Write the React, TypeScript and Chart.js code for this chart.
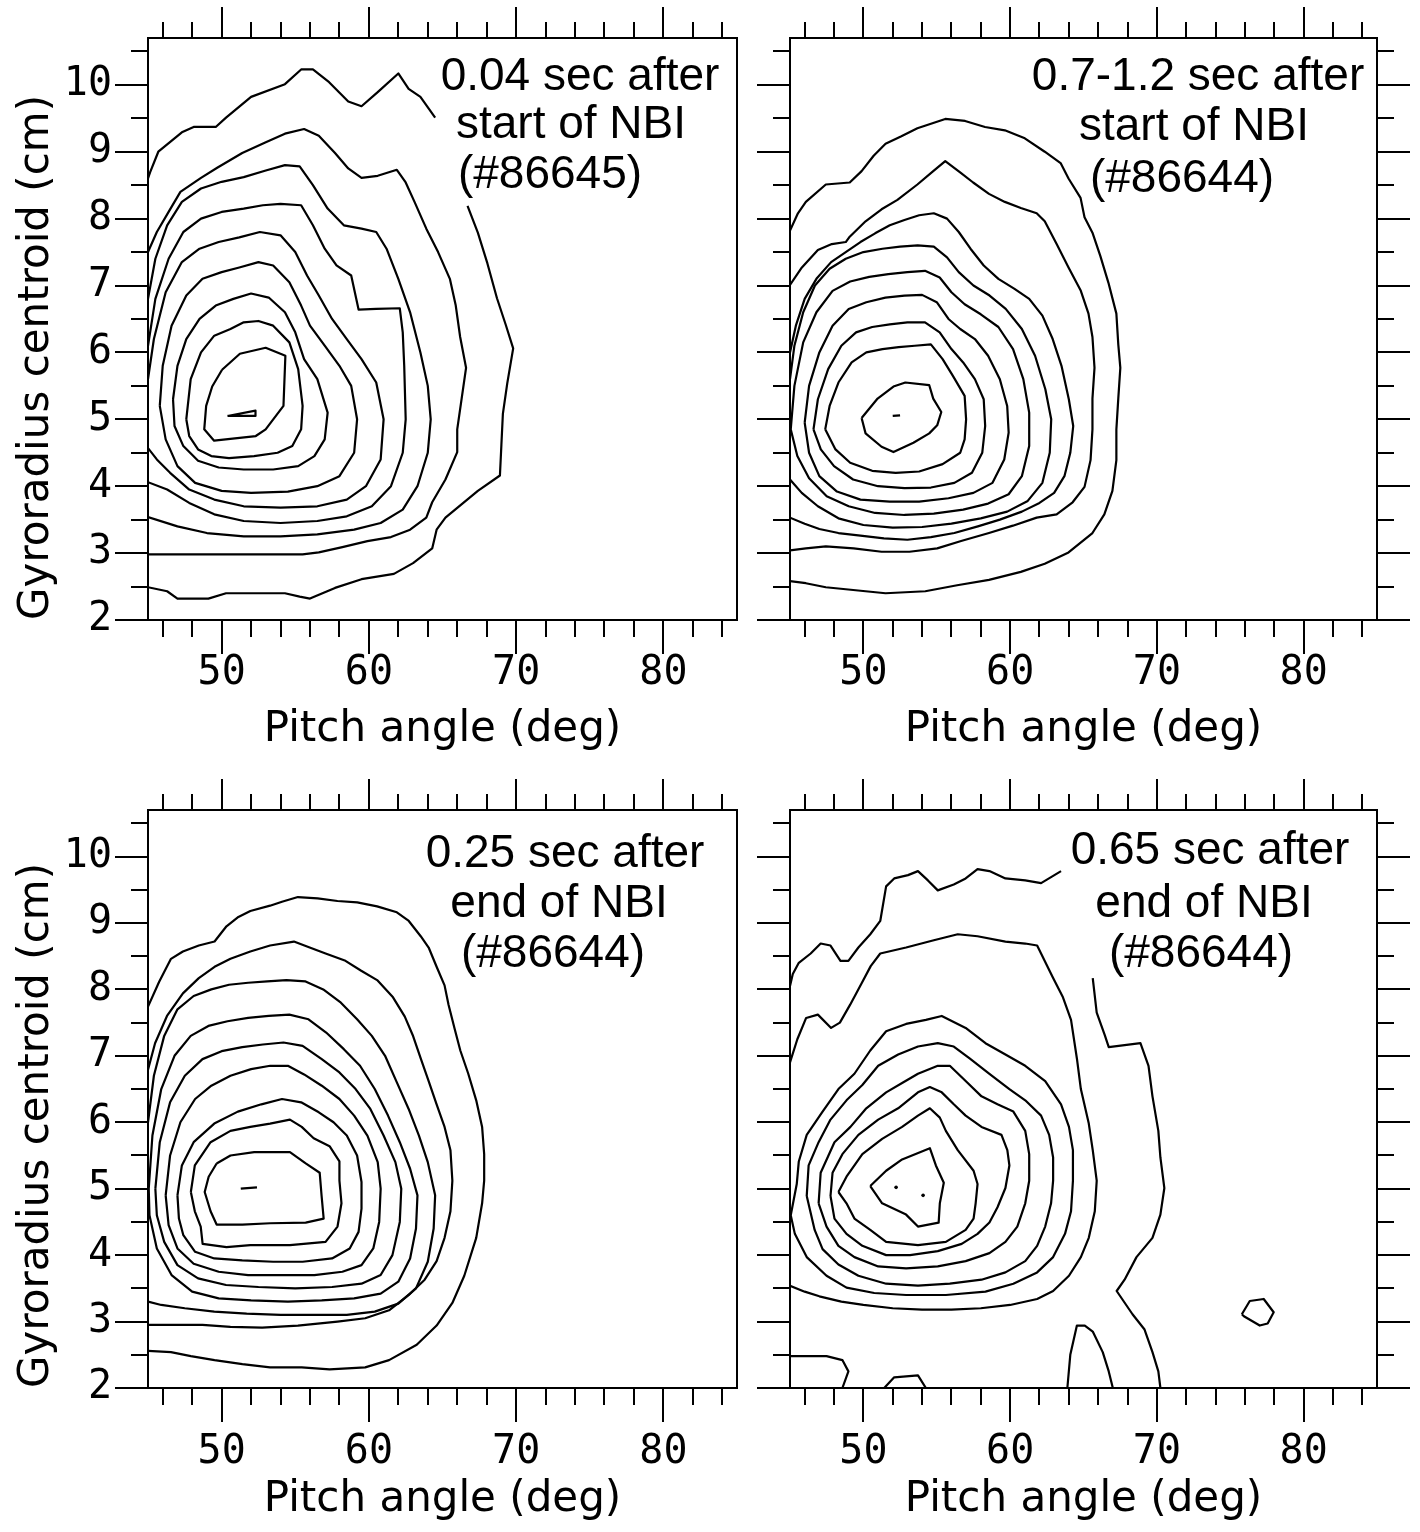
import React, { useEffect, useRef } from "react";
import { Chart, registerables } from "chart.js";
Chart.register(...registerables);

type P = [number, number] | null;

// ---------- axes / labels ----------
const X_TICK_LABELS = [50, 60, 70, 80];
const X_TICK_MARKS = [46, 48, 50, 52, 54, 56, 58, 60, 62, 64, 66, 68, 70, 72, 74, 76, 78, 80, 82, 84];
const Y_TICK_LABELS = [2, 3, 4, 5, 6, 7, 8, 9, 10];
const Y_TICK_MARKS = [2, 2.5, 3, 3.5, 4, 4.5, 5, 5.5, 6, 6.5, 7, 7.5, 8, 8.5, 9, 9.5, 10, 10.5];
const X_TITLE = "Pitch angle (deg)";
const Y_TITLE = "Gyroradius centroid (cm)";

const TL_NOTE = ["0.04 sec after", "start of NBI", "(#86645)"];
const TR_NOTE = ["0.7-1.2 sec after", "start of NBI", "(#86644)"];
const BL_NOTE = ["0.25 sec after", "end of NBI", "(#86644)"];
const BR_NOTE = ["0.65 sec after", "end of NBI", "(#86644)"];

// ---------- top-left: 0.04 s after start of NBI ----------
const TL_C1: P[] = [[45.0,8.6],[45.14,8.69],[45.7,9.0],[47.3,9.29],[48.1,9.37],[49.6,9.37],[50.3,9.51],[52.0,9.82],[54.3,10.01],[55.4,10.23],[56.2,10.23],[57.3,10.04],[58.6,9.75],[59.5,9.68],[60.6,9.89],[62.0,10.17],[62.7,9.94],[63.5,9.82],[64.5,9.51],
  null,
  [66.7,8.19],[67.4,7.79],[68.05,7.33],[68.7,6.81],[69.3,6.41],[69.8,6.06],[69.4,5.54],[69.1,5.08],[69.0,4.62],[68.9,4.16],[67.4,3.93],[65.2,3.53],[64.6,3.35],[64.3,3.07],[63.0,2.85],[61.7,2.69],[59.5,2.61],[57.7,2.48],[56.0,2.32],[55.3,2.35],[54.3,2.40],[50.3,2.40],[49.1,2.32],[47.0,2.32],[46.3,2.43],[45.0,2.49]];
const TL_C2: P[] = [[45,7.5],[45.6,7.8],[46.4,8.1],[47.2,8.4],[48.6,8.61],[49.7,8.76],[51.4,8.98],[53.0,9.14],[54.3,9.27],[55.6,9.34],[56.6,9.24],[57.7,8.98],[58.6,8.75],[59.5,8.61],[60.6,8.64],[61.9,8.73],[62.5,8.54],[63.1,8.25],[63.9,7.85],[64.7,7.5],[65.5,7.1],[65.9,6.7],[66.2,6.23],[66.6,5.77],[66.3,5.31],[66.0,4.85],[66.0,4.51],[65.2,4.1],[64.3,3.76],[63.9,3.53],[62.8,3.35],[61.5,3.24],[59.9,3.18],[58.2,3.09],[56.6,3.01],[55.5,2.98],[53.9,2.98],[49.1,2.98],[45,2.98]];
const TL_C3: P[] = [[45,6.8],[45.5,7.4],[46.3,7.9],[47.3,8.25],[48.6,8.45],[50.0,8.55],[51.5,8.62],[53.0,8.72],[54.3,8.8],[55.3,8.78],[56.2,8.5],[57.2,8.15],[58.3,7.9],[59.5,7.85],[60.5,7.8],[61.2,7.55],[62.0,7.1],[62.8,6.6],[63.5,6.0],[64.0,5.5],[64.2,5.0],[64.0,4.5],[63.3,4.0],[62.3,3.65],[60.8,3.45],[59.0,3.35],[56.5,3.28],[54.0,3.25],[51.5,3.25],[49.0,3.3],[47.0,3.4],[45,3.54]];
const TL_C4: P[] = [[45,6.1],[45.5,6.8],[46.4,7.4],[47.4,7.8],[48.6,8.0],[50.0,8.1],[51.5,8.15],[52.8,8.2],[54.0,8.22],[55.4,8.2],[56.2,7.9],[57.0,7.55],[57.8,7.3],[58.8,7.15],[59.3,6.64],[60.5,6.65],[62.1,6.66],[62.3,6.3],[62.4,5.8],[62.5,5.0],[62.3,4.5],[61.5,4.0],[60.2,3.7],[58.5,3.55],[56.5,3.48],[54.0,3.45],[51.5,3.48],[49.5,3.58],[47.8,3.75],[46.3,3.95],[45,4.06]];
const TL_C5: P[] = [[45,5.6],[45.4,6.2],[46.2,6.9],[47.3,7.35],[48.5,7.55],[49.8,7.65],[51.2,7.72],[52.6,7.8],[54.0,7.75],[55.0,7.5],[55.8,7.15],[56.6,6.85],[57.5,6.5],[58.5,6.2],[59.5,5.9],[60.5,5.55],[61.0,5.0],[60.8,4.4],[59.8,4.0],[58.5,3.8],[56.5,3.7],[54.0,3.68],[51.5,3.7],[49.5,3.8],[47.8,3.95],[46.5,4.2],[45.6,4.4],[45,4.57]];
const TL_C6: P[] = [[45.8,5.2],[46.0,5.8],[46.6,6.4],[47.6,6.85],[48.7,7.1],[50.0,7.2],[51.2,7.27],[52.5,7.35],[53.5,7.3],[54.6,7.05],[55.4,6.7],[56.0,6.4],[57.0,6.1],[58.0,5.8],[58.8,5.5],[59.2,5.0],[59.0,4.5],[58.0,4.15],[56.5,4.0],[54.5,3.92],[52.0,3.9],[50.0,3.93],[48.2,4.05],[47.0,4.3],[46.2,4.7],[45.8,5.2]];
const TL_C7: P[] = [[46.7,5.3],[47.0,5.8],[47.6,6.2],[48.5,6.5],[49.6,6.7],[50.8,6.8],[52.0,6.88],[53.2,6.82],[54.3,6.6],[55.0,6.3],[55.6,5.9],[56.5,5.6],[57.2,5.1],[57.0,4.7],[56.3,4.45],[55.2,4.3],[53.5,4.25],[51.5,4.25],[49.8,4.28],[48.4,4.38],[47.4,4.6],[46.8,4.9],[46.7,5.3]];
const TL_C8: P[] = [[47.6,5.0],[47.9,5.6],[48.6,6.0],[49.5,6.25],[50.6,6.35],[51.5,6.45],[52.5,6.47],[53.5,6.4],[54.6,6.15],[55.2,5.75],[55.5,5.2],[55.4,4.85],[54.8,4.6],[53.8,4.5],[52.2,4.45],[50.5,4.42],[49.3,4.45],[48.4,4.55],[47.8,4.75],[47.6,5.0]];
const TL_C9: P[] = [[50.03,5.74],[51.24,5.98],[52.99,6.07],[54.33,5.95],[54.2,5.2],[52.99,4.85],[52.32,4.75],[49.49,4.68],[48.82,4.85],[48.95,5.2],[49.36,5.49],[50.03,5.74]];
const TL_C10: P[] = [[50.4,5.05],[52.3,5.13],[52.3,5.05],[50.4,5.05]];

// ---------- top-right: 0.7-1.2 s after start of NBI ----------
const TR_C1: P[] = [[45.0,7.82],[45.54,8.08],[46.08,8.25],[47.44,8.51],[49.07,8.54],[49.88,8.71],[50.7,8.94],[51.51,9.12],[52.59,9.23],[53.68,9.35],[54.76,9.43],[55.58,9.49],[56.93,9.46],[58.29,9.37],[59.64,9.32],[61.0,9.2],[62.36,9.0],[63.44,8.83],[63.98,8.6],[64.8,8.31],[65.07,8.02],[65.61,7.79],[66.15,7.44],[66.7,7.04],[67.24,6.58],[67.37,6.12],[67.51,5.77],[67.37,5.31],[67.24,4.85],[67.24,4.39],[66.97,3.93],[66.42,3.58],[65.61,3.3],[63.98,3.01],[62.36,2.84],[60.73,2.72],[58.56,2.6],[56.39,2.52],[54.22,2.43],[51.51,2.4],[50.15,2.43],[48.8,2.46],[47.44,2.49],[46.08,2.55],[45.0,2.58]];
const TR_C2: P[] = [[45,7.01],[45.81,7.27],[46.9,7.53],[47.85,7.62],[48.8,7.65],[49.07,7.73],[50.15,7.96],[51.24,8.14],[52.32,8.28],[53.68,8.51],[54.76,8.71],[55.58,8.86],[56.66,8.68],[57.48,8.54],[58.56,8.37],[59.64,8.25],[60.73,8.16],[61.81,8.08],[62.36,7.96],[63.17,7.62],[63.98,7.27],[64.8,6.93],[65.34,6.58],[65.61,6.23],[65.75,5.77],[65.61,5.31],[65.61,4.85],[65.48,4.39],[65.07,3.99],[64.26,3.76],[63.17,3.58],[61.81,3.53],[60.19,3.41],[58.56,3.3],[56.66,3.18],[55.03,3.07],[53.14,3.02],[51.24,3.02],[49.34,3.07],[47.44,3.1],[46.08,3.07],[45,3.04]];
const TR_C3: P[] = [[45,6.0],[45.4,6.4],[46.0,6.8],[46.8,7.1],[47.8,7.35],[48.8,7.5],[49.8,7.65],[50.8,7.78],[51.8,7.9],[52.8,7.98],[53.8,8.05],[54.8,8.08],[55.7,8.0],[56.5,7.8],[57.3,7.55],[58.2,7.3],[59.2,7.1],[60.3,6.95],[61.3,6.8],[62.2,6.55],[62.9,6.2],[63.5,5.8],[64.0,5.3],[64.3,4.9],[64.1,4.5],[63.7,4.15],[63.0,3.9],[62.0,3.75],[60.8,3.62],[59.3,3.5],[57.8,3.4],[56.2,3.3],[54.6,3.24],[53.0,3.2],[51.4,3.22],[49.8,3.26],[48.3,3.3],[47.0,3.36],[46.0,3.44],[45,3.53]];
const TR_C4: P[] = [[45,5.6],[45.3,6.1],[45.9,6.6],[46.7,7.0],[47.7,7.25],[48.8,7.4],[50.0,7.5],[51.3,7.55],[52.5,7.58],[53.7,7.6],[54.8,7.58],[55.7,7.42],[56.5,7.2],[57.5,7.0],[58.6,6.85],[59.7,6.65],[60.8,6.35],[61.7,5.95],[62.4,5.45],[62.8,5.0],[62.7,4.5],[62.2,4.05],[61.2,3.78],[59.8,3.62],[58.0,3.52],[56.0,3.44],[54.0,3.39],[52.0,3.38],[50.0,3.42],[48.3,3.52],[46.9,3.7],[45.8,3.9],[45,4.1]];
const TR_C5: P[] = [[45.05,4.85],[45.3,5.5],[45.9,6.15],[46.8,6.6],[47.9,6.92],[49.1,7.06],[50.4,7.13],[51.7,7.17],[53.0,7.2],[54.2,7.22],[55.2,7.12],[56.0,6.9],[56.9,6.72],[58.0,6.57],[59.2,6.38],[60.2,6.05],[60.9,5.6],[61.3,5.1],[61.3,4.6],[60.8,4.15],[59.9,3.88],[58.5,3.74],[56.8,3.65],[54.8,3.59],[52.8,3.57],[50.8,3.6],[49.0,3.7],[47.5,3.85],[46.3,4.12],[45.5,4.45],[45.05,4.85]];
const TR_C6: P[] = [[46.0,4.95],[46.3,5.5],[47.0,6.0],[47.9,6.4],[49.0,6.65],[50.2,6.75],[51.5,6.82],[52.8,6.85],[54.0,6.86],[55.0,6.75],[55.8,6.5],[56.6,6.35],[57.6,6.2],[58.5,5.95],[59.3,5.6],[59.8,5.2],[59.9,4.8],[59.6,4.4],[58.8,4.05],[57.5,3.9],[55.8,3.82],[53.8,3.77],[51.8,3.77],[49.8,3.8],[48.2,3.92],[47.0,4.15],[46.3,4.5],[46.0,4.95]];
const TR_C7: P[] = [[46.6,4.85],[46.9,5.3],[47.6,5.75],[48.5,6.1],[49.5,6.3],[50.6,6.38],[51.8,6.42],[53.0,6.45],[54.2,6.45],[55.2,6.3],[56.0,6.05],[56.8,5.85],[57.6,5.6],[58.2,5.3],[58.3,4.9],[58.1,4.5],[57.4,4.2],[56.2,4.05],[54.6,3.98],[52.8,3.97],[51.0,4.0],[49.3,4.1],[48.0,4.3],[47.1,4.55],[46.6,4.85]];
const TR_C8: P[] = [[47.4,4.85],[47.7,5.2],[48.3,5.55],[49.2,5.85],[50.2,6.0],[51.3,6.05],[52.4,6.08],[53.5,6.1],[54.6,6.12],[55.4,5.9],[56.1,5.65],[56.9,5.35],[57.0,5.0],[56.9,4.7],[56.6,4.5],[55.4,4.33],[53.8,4.22],[52.2,4.2],[50.6,4.23],[49.1,4.35],[48.1,4.55],[47.4,4.85]];
const TR_C9: P[] = [[49.88,5.02],[50.97,5.31],[52.05,5.49],[52.86,5.55],[54.49,5.51],[54.76,5.31],[55.31,5.11],[55.03,4.91],[54.49,4.79],[53.41,4.65],[52.05,4.51],[51.24,4.59],[50.15,4.79],[49.88,5.02]];
const TR_C10: P[] = [[52.0,5.05],[52.5,5.06]];

// ---------- bottom-left: 0.25 s after end of NBI ----------
const BL_C1: P[] = [[45.0,7.74],[45.75,8.11],[46.56,8.46],[47.37,8.57],[48.45,8.66],[49.52,8.72],[50.33,8.95],[51.14,9.09],[51.95,9.18],[53.29,9.26],[54.1,9.32],[55.18,9.39],[56.52,9.37],[57.87,9.33],[59.21,9.31],[60.56,9.25],[61.9,9.16],[62.71,9.03],[63.52,8.8],[64.06,8.63],[64.6,8.34],[65.14,8.06],[65.41,7.77],[65.81,7.42],[66.21,7.08],[66.75,6.73],[67.29,6.33],[67.69,5.93],[67.83,5.52],[67.83,5.12],[67.69,4.78],[67.29,4.26],[66.48,3.69],[65.67,3.28],[64.6,2.94],[63.25,2.65],[61.37,2.42],[59.75,2.31],[57.33,2.28],[55.44,2.31],[53.29,2.31],[51.41,2.36],[49.52,2.42],[47.91,2.48],[46.56,2.54],[45.0,2.56]];
const BL_C2: P[] = [[45,6.79],[45.48,7.19],[46.29,7.6],[47.37,7.94],[48.45,8.17],[49.52,8.34],[50.6,8.46],[51.95,8.57],[53.29,8.66],[54.91,8.72],[55.98,8.63],[57.06,8.54],[58.41,8.43],[59.48,8.28],[60.56,8.14],[61.64,7.88],[62.44,7.59],[62.98,7.31],[63.52,6.96],[64.06,6.62],[64.6,6.27],[65.14,5.93],[65.54,5.58],[65.67,5.12],[65.54,4.66],[65.14,4.26],[64.6,3.91],[63.79,3.63],[62.71,3.4],[61.37,3.17],[59.75,3.05],[57.87,3.0],[55.18,2.94],[52.75,2.91],[50.6,2.92],[48.7,2.95],[47.1,2.95],[45.8,2.95],[45,2.95]];
const BL_C3: P[] = [[45,6.0],[45.4,6.7],[46.1,7.3],[47.0,7.7],[48.1,7.9],[49.3,8.0],[50.5,8.07],[51.8,8.1],[53.1,8.12],[54.4,8.14],[55.7,8.12],[56.9,8.0],[58.1,7.8],[59.2,7.55],[60.2,7.3],[61.1,7.0],[61.9,6.6],[62.7,6.2],[63.4,5.8],[64.0,5.4],[64.5,4.9],[64.4,4.4],[64.0,3.9],[63.2,3.5],[62.0,3.27],[60.4,3.15],[58.5,3.1],[56.3,3.1],[54.0,3.1],[51.7,3.12],[49.5,3.15],[47.5,3.2],[45.9,3.25],[45,3.3]];
const BL_C4: P[] = [[45.05,5.0],[45.3,5.8],[45.9,6.5],[46.8,7.0],[47.9,7.3],[49.1,7.45],[50.4,7.52],[51.8,7.57],[53.2,7.6],[54.6,7.62],[55.9,7.55],[57.1,7.35],[58.3,7.1],[59.4,6.85],[60.4,6.5],[61.3,6.1],[62.1,5.7],[62.8,5.3],[63.3,4.9],[63.2,4.4],[62.8,3.95],[62.0,3.6],[60.8,3.42],[59.0,3.35],[56.8,3.32],[54.5,3.3],[52.0,3.32],[49.8,3.35],[48.0,3.45],[46.6,3.7],[45.6,4.1],[45.1,4.6],[45.05,5.0]];
const BL_C5: P[] = [[45.5,5.0],[45.8,5.7],[46.5,6.3],[47.5,6.7],[48.7,6.95],[50.0,7.07],[51.4,7.13],[52.8,7.17],[54.2,7.2],[55.5,7.15],[56.8,6.95],[58.0,6.75],[59.1,6.5],[60.1,6.2],[61.0,5.8],[61.8,5.4],[62.2,5.0],[62.1,4.5],[61.6,4.0],[60.8,3.7],[59.5,3.57],[57.5,3.52],[55.0,3.5],[52.5,3.52],[50.3,3.55],[48.4,3.65],[47.0,3.85],[46.1,4.2],[45.6,4.6],[45.5,5.0]];
const BL_C6: P[] = [[46.2,4.9],[46.5,5.5],[47.2,6.0],[48.2,6.35],[49.3,6.55],[50.6,6.7],[52.0,6.8],[53.3,6.85],[54.5,6.85],[55.6,6.72],[56.8,6.55],[58.0,6.35],[59.0,6.1],[59.9,5.8],[60.6,5.4],[60.8,5.0],[60.7,4.5],[60.3,4.1],[59.5,3.85],[58.2,3.75],[56.3,3.7],[54.0,3.7],[51.8,3.7],[49.8,3.75],[48.1,3.87],[47.0,4.1],[46.4,4.45],[46.2,4.9]];
const BL_C7: P[] = [[47.0,4.9],[47.3,5.35],[48.1,5.7],[49.5,5.98],[51.1,6.16],[52.7,6.27],[54.1,6.35],[55.4,6.3],[56.6,6.15],[57.6,6.0],[58.5,5.8],[59.2,5.5],[59.5,5.1],[59.5,4.7],[59.3,4.35],[58.7,4.1],[57.5,3.95],[55.5,3.9],[53.5,3.9],[51.4,3.92],[49.5,3.95],[48.2,4.05],[47.4,4.3],[47.1,4.55],[47.0,4.9]];
const BL_C8: P[] = [[47.91,4.95],[48.18,5.35],[49.25,5.7],[50.6,5.87],[51.95,5.93],[53.29,5.98],[54.64,6.04],[55.44,5.93],[56.25,5.76],[57.33,5.64],[58.0,5.41],[58.0,5.12],[58.14,4.78],[57.87,4.43],[57.06,4.2],[54.64,4.15],[51.95,4.15],[50.33,4.12],[48.71,4.17],[48.58,4.43],[48.18,4.66],[47.91,4.95]];
const BL_C9: P[] = [[49.66,5.38],[50.6,5.5],[52.21,5.55],[54.64,5.55],[55.71,5.38],[56.66,5.24],[56.79,4.89],[56.93,4.55],[55.71,4.49],[53.29,4.48],[51.41,4.46],[49.66,4.46],[49.25,4.66],[48.85,4.95],[49.12,5.18],[49.66,5.38]];
const BL_C10: P[] = [[51.3,5.0],[52.4,5.02]];

// ---------- bottom-right: 0.65 s after end of NBI ----------
const BR_C1: P[] = [[45.0,8.05],[45.19,8.23],[45.6,8.4],[46.41,8.54],[47.09,8.69],[47.76,8.66],[48.44,8.43],[48.98,8.43],[49.66,8.63],[50.47,8.83],[51.15,9.03],[51.55,9.55],[52.1,9.67],[53.04,9.72],[53.72,9.78],[54.4,9.64],[55.07,9.49],[56.16,9.58],[56.97,9.67],[57.78,9.81],[58.59,9.78],[59.68,9.67],[61.03,9.64],[62.11,9.6],[63.47,9.78],
  null,
  [65.63,8.17],[65.9,7.65],[66.45,7.31],[66.72,7.13],[68.88,7.19],[69.43,6.85],[69.7,6.39],[70.1,5.87],[70.24,5.47],[70.51,5.01],[70.24,4.61],[69.7,4.26],[68.61,3.97],[67.8,3.63],[67.26,3.46],[68.34,3.11],[69.16,2.88],[69.7,2.54],[70.1,2.25],[70.24,2.0],
  null,
  [45,2.48],[47.49,2.48],[48.57,2.42],[48.98,2.25],[48.57,2.0],
  null,
  [51.42,2.0],[52.1,2.16],[53.72,2.19],[54.26,2.0],
  null,
  [63.9,2.0],[64.1,2.5],[64.55,2.94],[65.09,2.94],[65.63,2.85],[66.31,2.54],[66.72,2.25],[67.0,2.0],
  null,
  [75.79,3.11],[76.33,3.31],[77.28,3.34],[77.96,3.14],[77.55,2.97],[77.01,2.94],[75.93,3.08],[75.79,3.11]];
const BR_C2: P[] = [[45,6.9],[45.5,7.25],[46.1,7.57],[46.9,7.62],[47.8,7.42],[48.4,7.5],[49.1,7.77],[49.9,8.1],[50.5,8.35],[51.15,8.54],[52.91,8.63],[54.8,8.74],[56.43,8.83],[57.78,8.8],[59.68,8.72],[61.03,8.69],[61.84,8.66],[62.93,8.17],[63.6,7.88],[64.15,7.54],[64.55,6.96],[64.82,6.5],[65.36,5.98],[65.63,5.58],[65.9,5.12],[65.77,4.66],[65.36,4.26],[64.82,3.97],[64.01,3.69],[62.93,3.46],[61.84,3.34],[60.0,3.25],[58.0,3.2],[56.0,3.18],[54.0,3.18],[52.0,3.2],[50.0,3.25],[48.5,3.3],[47.0,3.38],[46.0,3.45],[45,3.54]];
const BR_C3: P[] = [[45.05,4.6],[45.46,5.07],[45.6,5.41],[46.14,5.81],[47.22,6.16],[48.3,6.5],[49.39,6.73],[50.47,7.08],[51.55,7.37],[52.91,7.48],[54.26,7.54],[55.34,7.6],[56.97,7.42],[58.32,7.19],[59.68,7.02],[61.03,6.85],[62.39,6.62],[63.47,6.27],[64.01,5.93],[64.28,5.58],[64.28,5.12],[64.15,4.66],[63.74,4.32],[62.93,3.97],[61.84,3.74],[60.22,3.57],[58.32,3.45],[55.62,3.4],[52.91,3.4],[50.74,3.43],[48.85,3.51],[47.49,3.69],[46.14,3.97],[45.33,4.32],[45.05,4.6]];
const BR_C4: P[] = [[46.14,4.89],[46.27,5.35],[46.95,5.7],[47.76,6.04],[48.85,6.33],[49.93,6.56],[51.01,6.85],[52.37,7.02],[53.72,7.14],[55.07,7.19],[56.16,7.14],[57.24,6.96],[58.59,6.73],[59.95,6.5],[61.03,6.33],[62.11,6.1],[62.66,5.81],[62.93,5.47],[62.93,5.12],[62.79,4.78],[62.39,4.43],[61.84,4.14],[61.03,3.91],[59.68,3.74],[58.05,3.63],[55.89,3.57],[53.72,3.54],[51.55,3.57],[49.66,3.69],[48.3,3.86],[47.22,4.09],[46.68,4.38],[46.14,4.89]];
const BR_C5: P[] = [[46.95,4.78],[47.09,5.24],[48.03,5.7],[49.12,5.93],[50.2,6.21],[51.55,6.45],[52.64,6.59],[53.72,6.73],[55.07,6.85],[55.89,6.85],[56.97,6.62],[58.05,6.39],[59.14,6.27],[60.22,6.16],[61.03,5.87],[61.3,5.52],[61.3,5.12],[61.03,4.78],[60.49,4.43],[59.68,4.2],[58.59,4.03],[56.97,3.91],[55.07,3.83],[52.91,3.8],[51.01,3.83],[49.39,3.97],[48.3,4.14],[47.49,4.43],[46.95,4.78]];
const BR_C6: P[] = [[47.76,4.89],[47.9,5.24],[48.57,5.52],[49.66,5.81],[51.01,6.04],[52.37,6.21],[53.72,6.45],[54.53,6.53],[55.34,6.45],[56.16,6.27],[56.97,6.1],[58.05,5.93],[59.41,5.81],[59.81,5.58],[59.95,5.35],[59.68,5.01],[59.14,4.72],[58.59,4.49],[57.78,4.32],[56.7,4.17],[55.07,4.06],[53.18,4.0],[51.55,4.0],[49.93,4.14],[48.85,4.32],[48.03,4.55],[47.76,4.89]];
const BR_C7: P[] = [[48.3,4.95],[48.85,5.18],[49.93,5.52],[51.28,5.75],[52.64,5.93],[53.72,6.1],[54.53,6.21],[55.21,6.07],[55.62,5.87],[56.43,5.58],[57.51,5.27],[57.78,5.07],[57.65,4.78],[57.51,4.55],[56.97,4.38],[55.62,4.2],[53.72,4.15],[51.55,4.2],[50.47,4.38],[49.39,4.55],[48.85,4.78],[48.3,4.95]];
const BR_C8: P[] = [[50.47,5.04],[51.55,5.27],[52.64,5.44],[54.53,5.61],[54.94,5.35],[55.48,5.09],[55.21,4.78],[55.13,4.49],[53.72,4.43],[52.91,4.61],[51.28,4.78],[50.47,5.04]];
const BR_DOTS: P[] = [[52.23,5.02],[54.07,4.9]];

const TL_CONTOURS = [TL_C1, TL_C2, TL_C3, TL_C4, TL_C5, TL_C6, TL_C7, TL_C8, TL_C9, TL_C10];
const TR_CONTOURS = [TR_C1, TR_C2, TR_C3, TR_C4, TR_C5, TR_C6, TR_C7, TR_C8, TR_C9, TR_C10];
const BL_CONTOURS = [BL_C1, BL_C2, BL_C3, BL_C4, BL_C5, BL_C6, BL_C7, BL_C8, BL_C9, BL_C10];
const BR_CONTOURS = [BR_C1, BR_C2, BR_C3, BR_C4, BR_C5, BR_C6, BR_C7, BR_C8];

// ---------- layout (pixels, not data) ----------
type Panel = {
  left: number; top: number; width: number; height: number;
  yW: number; padTop: number; padRight: number; xH: number;
  xLabelPad: number; titlePad: number; showY: boolean; rightTicks: boolean;
  contours: P[][]; dots: P[]; note: string[]; notePos: number[][];
};

const PANELS: Panel[] = [
  { left: 0, top: 0, width: 762, height: 766, yW: 148, padTop: 38, padRight: 25, xH: 146, xLabelPad: 30, titlePad: 11, showY: true, rightTicks: false,
    contours: TL_CONTOURS, dots: [], note: TL_NOTE, notePos: [[432, 52], [423, 100], [402, 150]] },
  { left: 740, top: 0, width: 680, height: 766, yW: 50, padTop: 38, padRight: 43, xH: 146, xLabelPad: 30, titlePad: 11, showY: false, rightTicks: true,
    contours: TR_CONTOURS, dots: [], note: TR_NOTE, notePos: [[408, 52], [404, 102], [392, 154]] },
  { left: 0, top: 766, width: 762, height: 766, yW: 148, padTop: 44, padRight: 25, xH: 144, xLabelPad: 41, titlePad: 7, showY: true, rightTicks: false,
    contours: BL_CONTOURS, dots: [], note: BL_NOTE, notePos: [[417, 57], [411, 107], [405, 157]] },
  { left: 740, top: 766, width: 680, height: 766, yW: 50, padTop: 44, padRight: 43, xH: 144, xLabelPad: 41, titlePad: 7, showY: false, rightTicks: true,
    contours: BR_CONTOURS, dots: BR_DOTS, note: BR_NOTE, notePos: [[420, 54], [414, 107], [411, 157]] },
];

const toXY = (pts: P[]) => pts.map((p) => (p ? { x: p[0], y: p[1] } : { x: null, y: null }));

function makeFramePlugin(panel: Panel) {
  return {
    id: "frameTicks",
    afterDatasetsDraw(chart: any) {
      const { ctx, chartArea } = chart;
      const { left, right, top, bottom } = chartArea;
      const xs = chart.scales.x;
      const ys = chart.scales.y;
      ctx.save();
      ctx.strokeStyle = "#000";
      ctx.lineWidth = 2;
      ctx.lineCap = "butt";
      ctx.beginPath();
      for (const v of X_TICK_MARKS) {
        const px = Math.round(xs.getPixelForValue(v));
        const major = X_TICK_LABELS.includes(v);
        ctx.moveTo(px, bottom);
        ctx.lineTo(px, bottom + (major ? 34 : 17));
        ctx.moveTo(px, top);
        ctx.lineTo(px, top - (major ? 31 : 16));
      }
      for (const v of Y_TICK_MARKS) {
        const py = Math.round(ys.getPixelForValue(v));
        const major = Y_TICK_LABELS.includes(v);
        ctx.moveTo(left, py);
        ctx.lineTo(left - (major ? 33 : 17), py);
        if (panel.rightTicks) {
          ctx.moveTo(right, py);
          ctx.lineTo(right + (major ? 33 : 17), py);
        }
      }
      ctx.stroke();
      ctx.strokeRect(left, top, right - left, bottom - top);
      ctx.fillStyle = "#000";
      ctx.font = '46px "Liberation Sans", Arial, Helvetica, sans-serif';
      ctx.textAlign = "center";
      ctx.textBaseline = "alphabetic";
      panel.note.forEach((t, i) => {
        ctx.fillText(t, left + panel.notePos[i][0], top + panel.notePos[i][1]);
      });
      ctx.restore();
    },
  };
}

function PanelChart({ panel }: { panel: Panel }) {
  const ref = useRef<HTMLCanvasElement | null>(null);
  useEffect(() => {
    if (!ref.current) return;
    const datasets: any[] = panel.contours.map((c) => ({
      data: toXY(c),
      showLine: true,
      borderColor: "#000",
      borderWidth: 2.2,
      pointRadius: 0,
      pointHoverRadius: 0,
      fill: false,
      tension: 0,
      spanGaps: false,
      borderJoinStyle: "round",
    }));
    if (panel.dots.length) {
      datasets.push({
        data: toXY(panel.dots),
        showLine: false,
        pointRadius: 1.8,
        pointBackgroundColor: "#000",
        pointBorderWidth: 0,
        backgroundColor: "#000",
      });
    }
    const chart = new Chart(ref.current, {
      type: "scatter",
      data: { datasets },
      options: {
        animation: false,
        responsive: false,
        devicePixelRatio: 1,
        events: [],
        layout: { padding: { top: panel.padTop, right: panel.padRight, left: 0, bottom: 0 } },
        plugins: { legend: { display: false }, tooltip: { enabled: false } },
        scales: {
          x: {
            type: "linear",
            position: "bottom",
            min: 45,
            max: 85,
            afterBuildTicks: (s: any) => {
              s.ticks = X_TICK_LABELS.map((v) => ({ value: v }));
            },
            afterFit: (s: any) => {
              s.height = panel.xH;
              s.paddingLeft = 0;
              s.paddingRight = 0;
              s.paddingTop = 0;
              s.paddingBottom = 0;
            },
            grid: { display: false, drawTicks: false },
            border: { display: false },
            ticks: {
              color: "#000",
              autoSkip: false,
              maxRotation: 0,
              padding: panel.xLabelPad,
              font: { family: '"DejaVu Sans Mono", monospace', size: 40 },
              callback: (v: any) => String(v),
            },
            title: {
              display: true,
              text: X_TITLE,
              color: "#000",
              font: { family: '"DejaVu Sans", sans-serif', size: 42 },
              padding: { top: 0, bottom: panel.titlePad },
            },
          },
          y: {
            type: "linear",
            position: "left",
            min: 2,
            max: 10.7,
            afterBuildTicks: (s: any) => {
              s.ticks = Y_TICK_LABELS.map((v) => ({ value: v }));
            },
            afterFit: (s: any) => {
              s.width = panel.yW;
              s.paddingLeft = 0;
              s.paddingRight = 0;
              s.paddingTop = 0;
              s.paddingBottom = 0;
            },
            grid: { display: false, drawTicks: false },
            border: { display: false },
            ticks: {
              display: panel.showY,
              color: "#000",
              autoSkip: false,
              padding: 36,
              font: { family: '"DejaVu Sans Mono", monospace', size: 40 },
              callback: (v: any) => String(v),
            },
            title: {
              display: panel.showY,
              text: Y_TITLE,
              align: "start",
              color: "#000",
              font: { family: '"DejaVu Sans", sans-serif', size: 42 },
              padding: { top: 12, bottom: 0 },
            },
          },
        },
      } as any,
      plugins: [makeFramePlugin(panel)],
    });
    return () => chart.destroy();
  }, [panel]);
  return (
    <canvas
      ref={ref}
      width={panel.width}
      height={panel.height}
      style={{ position: "absolute", left: panel.left, top: panel.top, width: panel.width, height: panel.height }}
    />
  );
}

export default function App() {
  return (
    <div style={{ position: "absolute", left: 0, top: 0, width: 1420, height: 1532, background: "#fff" }}>
      {PANELS.map((p, i) => (
        <PanelChart key={i} panel={p} />
      ))}
    </div>
  );
}
